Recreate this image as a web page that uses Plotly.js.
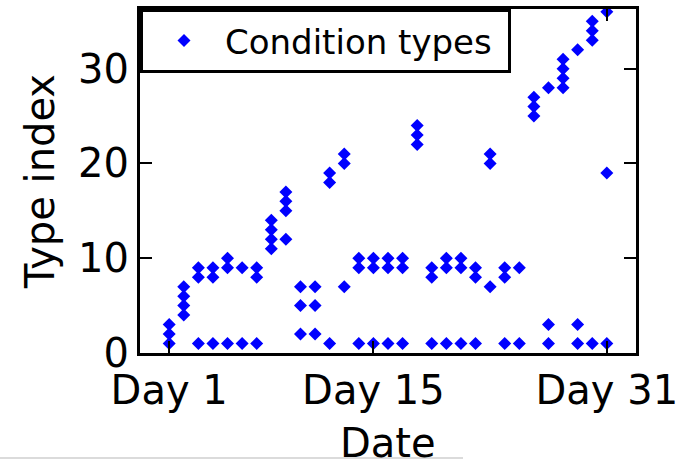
<!DOCTYPE html>
<html>
<head>
<meta charset="utf-8">
<script src="https://cdn.plot.ly/plotly-3.0.1.min.js"></script>
<style>
  html, body { margin: 0; padding: 0; background: #fff; }
  #chart { width: 682px; height: 460px; }
</style>
</head>
<body>
<div id="chart"></div>
<script>
// Day of the month for each column of observations
const dayNumbers = [1, 2, 3, 4, 5, 6, 7, 8, 9, 10, 11, 12, 13, 14, 15, 16,
                    17, 18, 19, 20, 21, 22, 23, 24, 25, 26, 27, 28, 29, 30, 31];
// Condition type indices recorded on each of those days
const typesPerDay = [
  [1, 2, 3], [4, 5, 6, 7], [1, 8, 9], [1, 8, 9], [1, 9, 10], [1, 9], [1, 8, 9],
  [11, 12, 13, 14], [12, 15, 16, 17], [2, 5, 7], [2, 5, 7], [1, 18, 19], [7, 20, 21],
  [1, 9, 10], [1, 9, 10], [1, 9, 10], [1, 9, 10], [22, 23, 24], [1, 8, 9], [1, 9, 10],
  [1, 9, 10], [1, 8, 9], [7, 20, 21], [1, 8, 9], [1, 9], [25, 26, 27], [1, 3, 28],
  [28, 29, 30, 31], [1, 3, 32], [1, 33, 34, 35], [1, 19, 36]
];
const seriesName = 'Condition types';
const xTitle = 'Date';
const yTitle = 'Type index';
const dayTickValues = [1, 15, 31];
const dayTickLabels = ['Day 1', 'Day 15', 'Day 31'];
const typeTickValues = [0, 10, 20, 30];

// One marker per (day, type) pair
const xs = [];
const ys = [];
dayNumbers.forEach((day, i) => {
  typesPerDay[i].forEach(t => { xs.push(day); ys.push(t); });
});

const FONT = 'DejaVu Sans, sans-serif';

const trace = {
  type: 'scatter',
  mode: 'markers',
  x: xs,
  y: ys,
  // trailing space keeps some room before the legend's right border
  name: seriesName + '&nbsp;',
  marker: { symbol: 'diamond', size: 10, color: '#0000ff', line: { width: 0 } },
  cliponaxis: true,
  hoverinfo: 'x+y'
};

const axisCommon = {
  showgrid: false,
  zeroline: false,
  showline: true,
  linecolor: '#000',
  linewidth: 3,
  mirror: 'ticks',
  ticks: 'inside',
  ticklen: 12,
  tickwidth: 2,
  tickcolor: '#000',
  tickfont: { family: FONT, size: 40, color: '#000' }
};

const layout = {
  width: 682,
  height: 460,
  margin: { l: 140, r: 46, t: 9, b: 107 },
  paper_bgcolor: '#fff',
  plot_bgcolor: '#fff',
  font: { family: FONT, color: '#000' },
  showlegend: true,
  legend: {
    x: 0, y: 1, xanchor: 'left', yanchor: 'top',
    bgcolor: '#fff', bordercolor: '#000', borderwidth: 3,
    font: { family: FONT, size: 34, color: '#000' },
    itemwidth: 72
  },
  xaxis: Object.assign({}, axisCommon, {
    range: [-1, 33],
    tickmode: 'array',
    tickvals: dayTickValues,
    ticktext: dayTickLabels,
    automargin: false
  }),
  yaxis: Object.assign({}, axisCommon, {
    range: [0, 36.3],
    tickmode: 'array',
    tickvals: typeTickValues,
    automargin: false,
    title: { text: yTitle, font: { family: FONT, size: 40, color: '#000' }, standoff: 12 }
  }),
  // x-axis title placed as an annotation so it can sit right at the bottom edge
  annotations: [{
    text: xTitle, xref: 'paper', yref: 'paper',
    x: 0.5, y: -90 / 344, xanchor: 'center', yanchor: 'middle',
    showarrow: false,
    font: { family: FONT, size: 40, color: '#000' }
  }],
  shapes: [{
    type: 'line', xref: 'paper', yref: 'paper',
    x0: -140 / 496, x1: 323 / 496, y0: -105 / 344, y1: -105 / 344,
    line: { color: '#cfcfcf', width: 1.5 }
  }]
};

Plotly.newPlot('chart', [trace], layout, { staticPlot: true, displayModeBar: false });
</script>
</body>
</html>
